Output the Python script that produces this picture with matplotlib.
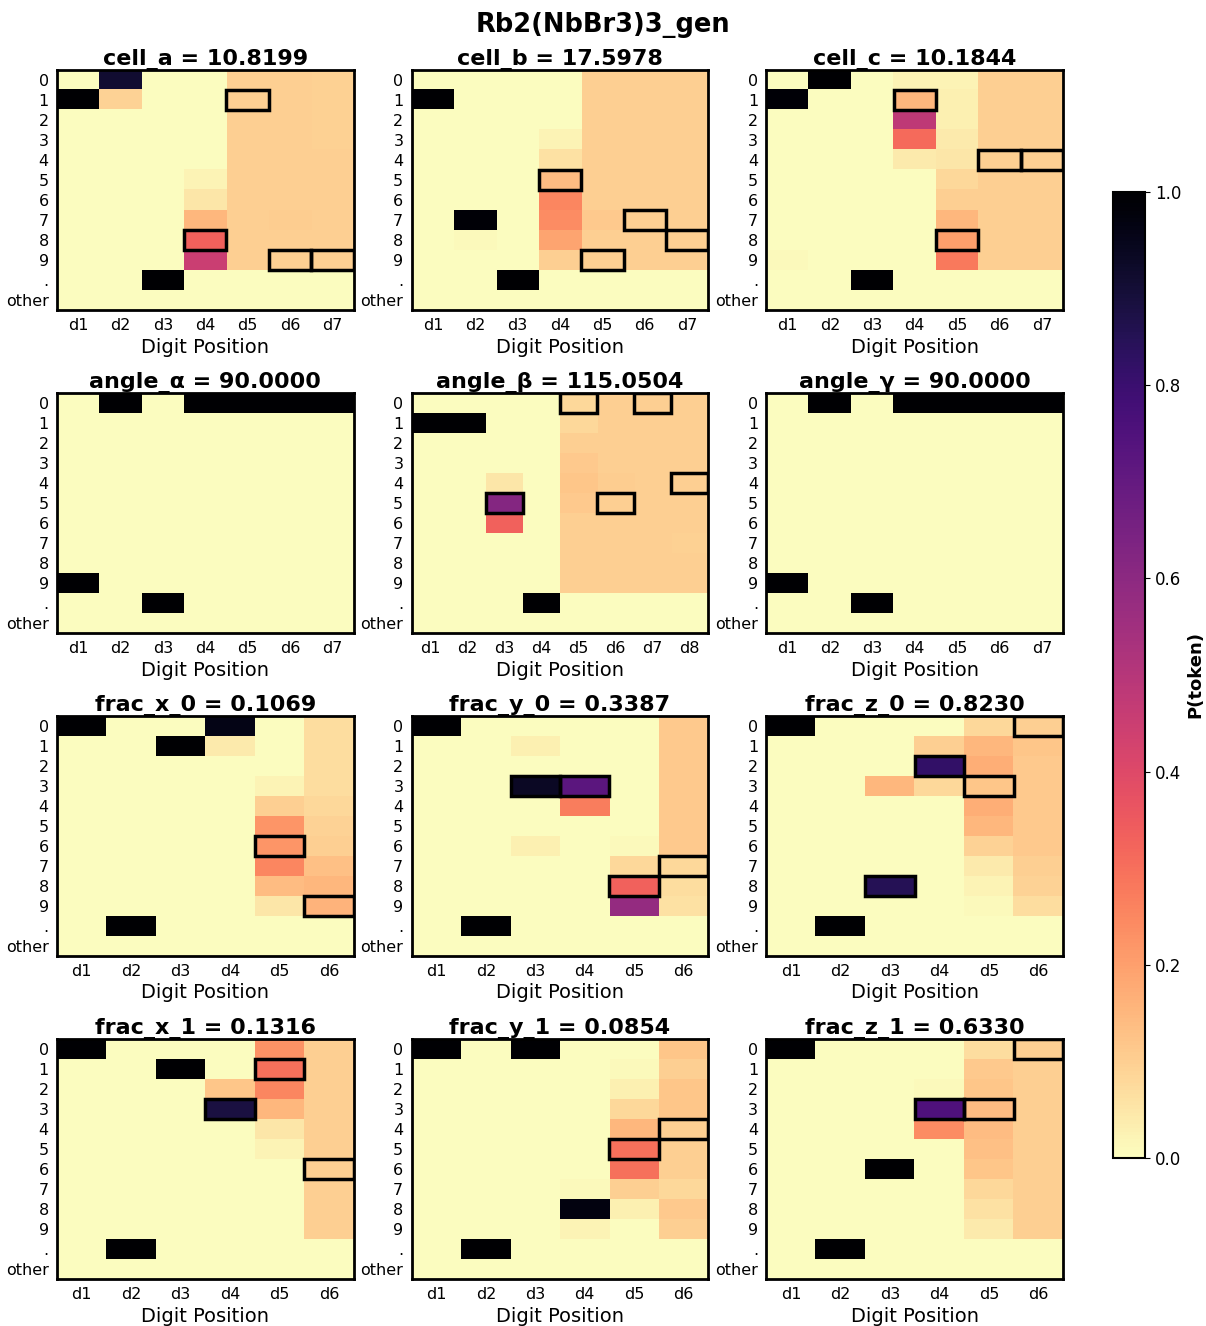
import numpy as np
import matplotlib
matplotlib.use("Agg")
import matplotlib.pyplot as plt
from matplotlib.patches import Rectangle

row_labels = ["0", "1", "2", "3", "4", "5", "6", "7", "8", "9", ".", "other"]
suptitle = "Rb2(NbBr3)3_gen"

# Each panel: list of columns (d1..dN), each column = P(token) for rows 0-9, '.', 'other'
cell_a = [
    [0, 1, 0, 0, 0, 0, 0, 0, 0, 0, 0, 0],
    [0.91, 0.09, 0, 0, 0, 0, 0, 0, 0, 0, 0, 0],
    [0, 0, 0, 0, 0, 0, 0, 0, 0, 0, 1, 0],
    [0, 0, 0, 0, 0, 0.02, 0.05, 0.15, 0.33, 0.45, 0, 0],
    [0.1, 0.1, 0.1, 0.1, 0.1, 0.1, 0.1, 0.1, 0.1, 0.1, 0, 0],
    [0.1, 0.1, 0.1, 0.1, 0.1, 0.1, 0.1, 0.105, 0.1, 0.1, 0, 0],
    [0.095, 0.095, 0.096, 0.097, 0.098, 0.1, 0.1, 0.1, 0.1, 0.1, 0, 0],
]
cell_b = [
    [0, 1, 0, 0, 0, 0, 0, 0, 0, 0, 0, 0],
    [0, 0, 0, 0, 0, 0, 0, 0.99, 0.01, 0, 0, 0],
    [0, 0, 0, 0, 0, 0, 0, 0, 0, 0, 1, 0],
    [0, 0, 0, 0.02, 0.06, 0.14, 0.25, 0.24, 0.19, 0.1, 0, 0],
    [0.1, 0.1, 0.1, 0.1, 0.1, 0.1, 0.1, 0.11, 0.1, 0.1, 0, 0],
    [0.1, 0.1, 0.1, 0.1, 0.1, 0.1, 0.1, 0.1, 0.1, 0.1, 0, 0],
    [0.1, 0.1, 0.1, 0.1, 0.1, 0.1, 0.1, 0.1, 0.1, 0.1, 0, 0],
]
cell_c = [
    [0, 0.99, 0, 0, 0, 0, 0, 0, 0, 0.01, 0, 0],
    [1, 0, 0, 0, 0, 0, 0, 0, 0, 0, 0, 0],
    [0, 0, 0, 0, 0, 0, 0, 0, 0, 0, 1, 0],
    [0.02, 0.15, 0.48, 0.31, 0.04, 0, 0, 0, 0, 0, 0, 0],
    [0.02, 0.03, 0.03, 0.04, 0.05, 0.08, 0.1, 0.15, 0.2, 0.28, 0, 0],
    [0.1, 0.1, 0.1, 0.1, 0.1, 0.1, 0.1, 0.1, 0.1, 0.1, 0, 0],
    [0.1, 0.1, 0.1, 0.1, 0.1, 0.1, 0.1, 0.1, 0.1, 0.1, 0, 0],
]
angle_alpha = [
    [0, 0, 0, 0, 0, 0, 0, 0, 0, 1, 0, 0],
    [1, 0, 0, 0, 0, 0, 0, 0, 0, 0, 0, 0],
    [0, 0, 0, 0, 0, 0, 0, 0, 0, 0, 1, 0],
    [1, 0, 0, 0, 0, 0, 0, 0, 0, 0, 0, 0],
    [1, 0, 0, 0, 0, 0, 0, 0, 0, 0, 0, 0],
    [1, 0, 0, 0, 0, 0, 0, 0, 0, 0, 0, 0],
    [1, 0, 0, 0, 0, 0, 0, 0, 0, 0, 0, 0],
]
angle_beta = [
    [0, 1, 0, 0, 0, 0, 0, 0, 0, 0, 0, 0],
    [0, 1, 0, 0, 0, 0, 0, 0, 0, 0, 0, 0],
    [0, 0, 0, 0, 0.05, 0.62, 0.33, 0, 0, 0, 0, 0],
    [0, 0, 0, 0, 0, 0, 0, 0, 0, 0, 1, 0],
    [0.08, 0.08, 0.1, 0.11, 0.12, 0.11, 0.1, 0.1, 0.1, 0.1, 0, 0],
    [0.1, 0.1, 0.1, 0.1, 0.105, 0.1, 0.1, 0.1, 0.1, 0.1, 0, 0],
    [0.1, 0.1, 0.1, 0.1, 0.1, 0.1, 0.1, 0.1, 0.1, 0.1, 0, 0],
    [0.1, 0.1, 0.1, 0.1, 0.1, 0.1, 0.1, 0.095, 0.1, 0.1, 0, 0],
]
angle_gamma = [
    [0, 0, 0, 0, 0, 0, 0, 0, 0, 1, 0, 0],
    [1, 0, 0, 0, 0, 0, 0, 0, 0, 0, 0, 0],
    [0, 0, 0, 0, 0, 0, 0, 0, 0, 0, 1, 0],
    [1, 0, 0, 0, 0, 0, 0, 0, 0, 0, 0, 0],
    [1, 0, 0, 0, 0, 0, 0, 0, 0, 0, 0, 0],
    [1, 0, 0, 0, 0, 0, 0, 0, 0, 0, 0, 0],
    [1, 0, 0, 0, 0, 0, 0, 0, 0, 0, 0, 0],
]
frac_x_0 = [
    [1, 0, 0, 0, 0, 0, 0, 0, 0, 0, 0, 0],
    [0, 0, 0, 0, 0, 0, 0, 0, 0, 0, 1, 0],
    [0, 1, 0, 0, 0, 0, 0, 0, 0, 0, 0, 0],
    [0.96, 0.04, 0, 0, 0, 0, 0, 0, 0, 0, 0, 0],
    [0, 0, 0, 0.02, 0.1, 0.22, 0.22, 0.25, 0.14, 0.05, 0, 0],
    [0.07, 0.07, 0.07, 0.07, 0.08, 0.09, 0.1, 0.13, 0.15, 0.16, 0, 0],
]
frac_y_0 = [
    [1, 0, 0, 0, 0, 0, 0, 0, 0, 0, 0, 0],
    [0, 0, 0, 0, 0, 0, 0, 0, 0, 0, 1, 0],
    [0, 0.03, 0, 0.93, 0, 0, 0.03, 0, 0, 0, 0, 0],
    [0, 0, 0, 0.72, 0.27, 0, 0, 0, 0, 0, 0, 0],
    [0, 0, 0, 0, 0, 0, 0.01, 0.08, 0.33, 0.58, 0, 0],
    [0.11, 0.11, 0.11, 0.11, 0.11, 0.11, 0.11, 0.08, 0.07, 0.06, 0, 0],
]
frac_z_0 = [
    [1, 0, 0, 0, 0, 0, 0, 0, 0, 0, 0, 0],
    [0, 0, 0, 0, 0, 0, 0, 0, 0, 0, 1, 0],
    [0, 0, 0, 0.15, 0, 0, 0, 0, 0.85, 0, 0, 0],
    [0, 0.1, 0.82, 0.08, 0, 0, 0, 0, 0, 0, 0, 0],
    [0.08, 0.15, 0.17, 0.12, 0.17, 0.15, 0.09, 0.04, 0.02, 0.01, 0, 0],
    [0.1, 0.12, 0.11, 0.11, 0.11, 0.11, 0.11, 0.1, 0.09, 0.07, 0, 0],
]
frac_x_1 = [
    [1, 0, 0, 0, 0, 0, 0, 0, 0, 0, 0, 0],
    [0, 0, 0, 0, 0, 0, 0, 0, 0, 0, 1, 0],
    [0, 1, 0, 0, 0, 0, 0, 0, 0, 0, 0, 0],
    [0, 0, 0.12, 0.88, 0, 0, 0, 0, 0, 0, 0, 0],
    [0.23, 0.3, 0.25, 0.15, 0.05, 0.02, 0, 0, 0, 0, 0, 0],
    [0.1, 0.1, 0.1, 0.1, 0.1, 0.1, 0.1, 0.1, 0.1, 0.1, 0, 0],
]
frac_y_1 = [
    [1, 0, 0, 0, 0, 0, 0, 0, 0, 0, 0, 0],
    [0, 0, 0, 0, 0, 0, 0, 0, 0, 0, 1, 0],
    [1, 0, 0, 0, 0, 0, 0, 0, 0, 0, 0, 0],
    [0, 0, 0, 0, 0, 0, 0, 0.01, 0.97, 0.02, 0, 0],
    [0, 0.01, 0.03, 0.08, 0.15, 0.3, 0.3, 0.1, 0.03, 0, 0, 0],
    [0.12, 0.1, 0.12, 0.12, 0.1, 0.1, 0.1, 0.08, 0.11, 0.1, 0, 0],
]
frac_z_1 = [
    [1, 0, 0, 0, 0, 0, 0, 0, 0, 0, 0, 0],
    [0, 0, 0, 0, 0, 0, 0, 0, 0, 0, 1, 0],
    [0, 0, 0, 0, 0, 0, 1, 0, 0, 0, 0, 0],
    [0, 0, 0.01, 0.75, 0.24, 0, 0, 0, 0, 0, 0, 0],
    [0.07, 0.11, 0.12, 0.14, 0.14, 0.13, 0.12, 0.08, 0.06, 0.04, 0, 0],
    [0.1, 0.1, 0.1, 0.1, 0.1, 0.1, 0.1, 0.1, 0.1, 0.1, 0, 0],
]

panel_names = ["cell_a", "cell_b", "cell_c", "angle_α", "angle_β", "angle_γ",
               "frac_x_0", "frac_y_0", "frac_z_0", "frac_x_1", "frac_y_1", "frac_z_1"]
panel_values = ["10.8199", "17.5978", "10.1844", "90.0000", "115.0504", "90.0000",
                "0.1069", "0.3387", "0.8230", "0.1316", "0.0854", "0.6330"]
panel_probs = [cell_a, cell_b, cell_c, angle_alpha, angle_beta, angle_gamma,
               frac_x_0, frac_y_0, frac_z_0, frac_x_1, frac_y_1, frac_z_1]
# digit positions (0-based) whose generated token is highlighted
panel_boxed = [[3, 4, 5, 6], [3, 4, 5, 6], [3, 4, 5, 6], [], [2, 4, 5, 6, 7], [],
               [4, 5], [2, 3, 4, 5], [2, 3, 4, 5], [3, 4, 5], [4, 5], [3, 4, 5]]

fig = plt.figure(figsize=(12.06, 13.26), dpi=100)
gs = fig.add_gridspec(4, 3, left=57/1206, right=1063/1206, top=1-70/1326,
                      bottom=1-1279/1326, wspace=58/296, hspace=83/240)
cmap = plt.get_cmap("magma_r")
im = None
for i in range(12):
    ax = fig.add_subplot(gs[i // 3, i % 3])
    data = np.array(panel_probs[i], dtype=float).T
    ncol = data.shape[1]
    im = ax.imshow(data, cmap=cmap, vmin=0, vmax=1, aspect="auto", interpolation="nearest")
    ax.set_xticks(range(ncol))
    ax.set_xticklabels([f"d{j+1}" for j in range(ncol)], fontsize=11.5)
    ax.set_yticks(range(12))
    ax.set_yticklabels(row_labels, fontsize=11.5)
    ax.tick_params(length=0, pad=6)
    ax.set_xlabel("Digit Position", fontsize=14, labelpad=3)
    ax.set_title(f"{panel_names[i]} = {panel_values[i]}", fontsize=16, fontweight="bold", pad=3)
    for s in ax.spines.values():
        s.set_linewidth(2)
    val = panel_values[i]
    for c in panel_boxed[i]:
        ch = val[c]
        r = row_labels.index(ch)
        ax.add_patch(Rectangle((c - 0.5, r - 0.5), 1, 1, fill=False,
                               edgecolor="black", linewidth=2.5))

cax = fig.add_axes([1113/1206, 1-1158/1326, 32/1206, 966/1326])
cb = fig.colorbar(im, cax=cax)
cb.set_ticks([0, 0.2, 0.4, 0.6, 0.8, 1.0])
cb.ax.tick_params(labelsize=12)
cb.outline.set_linewidth(1.5)
cb.set_label("P(token)", fontsize=13, fontweight="bold", labelpad=4)

fig.suptitle(suptitle, fontsize=18.5, fontweight="bold", y=1-25/1326, va="center")
fig.savefig("out.png", dpi=100)
